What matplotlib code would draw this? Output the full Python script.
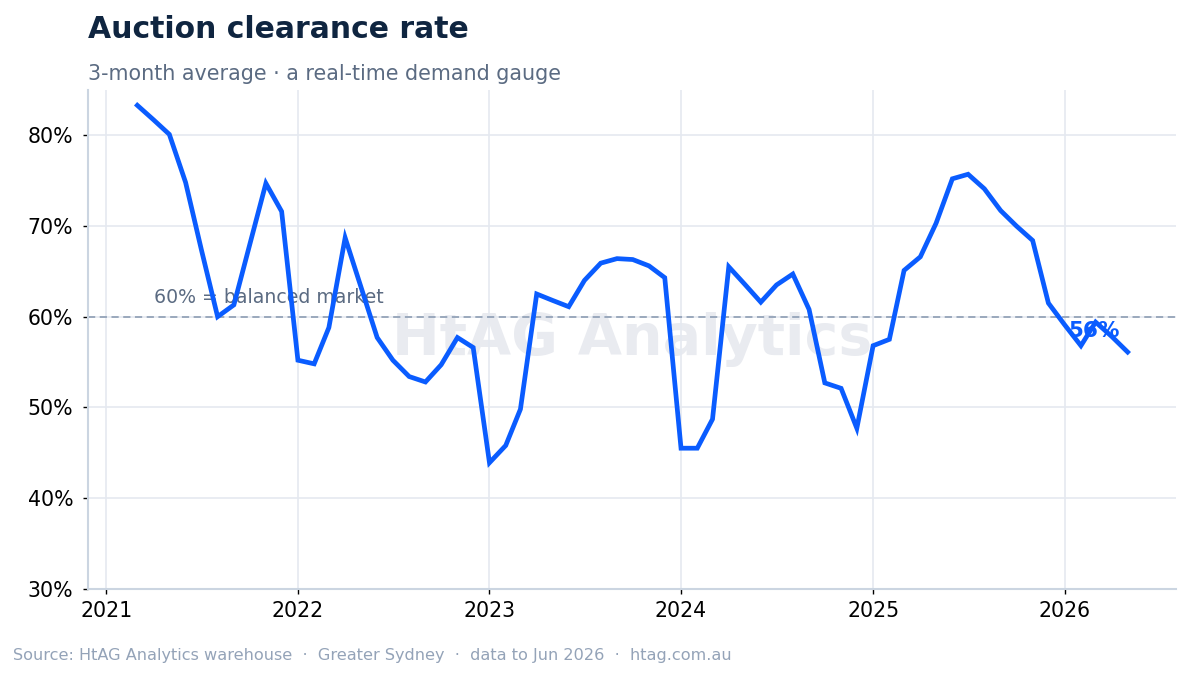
import numpy as np
import pandas as pd
import matplotlib
matplotlib.use("Agg")
import matplotlib.pyplot as plt
import matplotlib.dates as mdates
from matplotlib.ticker import FuncFormatter

# monthly 3-month-average clearance rate, Greater Sydney
months = pd.date_range("2021-03-01", "2026-05-01", freq="MS")
clearance = [
    83.3, 81.7, 80.1, 74.8, 67.4, 60.0, 61.3, 67.9, 74.7, 71.6,         # 2021 Mar-Dec
    55.2, 54.8, 58.8, 68.7, 63.3, 57.7, 55.2, 53.4, 52.8, 54.7, 57.7, 56.6,  # 2022
    43.9, 45.8, 49.8, 62.5, 61.8, 61.1, 64.0, 65.9, 66.4, 66.3, 65.6, 64.3,  # 2023
    45.5, 45.5, 48.7, 65.5, 63.6, 61.6, 63.5, 64.7, 60.8, 52.7, 52.1, 47.7,  # 2024
    56.8, 57.5, 65.1, 66.6, 70.3, 75.2, 75.7, 74.1, 71.7, 70.0, 68.4, 61.5,  # 2025
    59.1, 56.8, 59.4, 57.8, 56.1,                                        # 2026 Jan-May
]
balanced = 60
year_ticks = pd.to_datetime(["2021-01-01", "2022-01-01", "2023-01-01",
                             "2024-01-01", "2025-01-01", "2026-01-01"])

blue = "#0a5cff"
slate = "#5b6b82"

fig = plt.figure(figsize=(11.89, 6.76), dpi=100)
ax = fig.add_axes([0.074, 0.129, 0.915, 0.738])

ax.text(0.5, 0.5, "HtAG Analytics", transform=ax.transAxes, ha="center", va="center",
        fontsize=41, fontweight="bold", color="#e9ebf0", zorder=0.5)

ax.axhline(balanced, color="#94a3b8", lw=1.3, ls=(0, (4, 2.5)), zorder=2)
ax.text(pd.Timestamp("2021-04-01"), balanced + 1.1, "60% = balanced market",
        fontsize=13.6, color=slate, ha="left", va="bottom", zorder=3)

ax.plot(months, clearance, color=blue, lw=3.4, solid_joinstyle="miter", zorder=4)
ax.annotate(f"{clearance[-1]:.0f}%", (months[-1], clearance[-1]),
            xytext=(-6, 15), textcoords="offset points", ha="right", va="center",
            fontsize=15.5, fontweight="bold", color=blue, zorder=5)

ax.set_ylim(30, 85)
ax.set_yticks([30, 40, 50, 60, 70, 80])
ax.yaxis.set_major_formatter(FuncFormatter(lambda v, p: f"{v:.0f}%"))
ax.set_xlim(pd.Timestamp("2020-11-27"), pd.Timestamp("2026-08-01"))
ax.set_xticks(year_ticks)
ax.xaxis.set_major_formatter(mdates.DateFormatter("%Y"))

ax.grid(True, color="#e5e9f0", lw=1.2, zorder=0)
ax.set_axisbelow(True)
for side in ["top", "right"]:
    ax.spines[side].set_visible(False)
for side in ["left", "bottom"]:
    ax.spines[side].set_color("#cbd5e1")
    ax.spines[side].set_linewidth(1.5)
ax.tick_params(labelsize=14.8, colors="black", length=3.5, width=1)
ax.tick_params(axis="y", pad=7)
ax.tick_params(axis="x", pad=5)

fig.text(0.074, 0.944, "Auction clearance rate", fontsize=21.5, fontweight="bold",
         color="#0f2540", ha="left", va="baseline")
fig.text(0.074, 0.882, "3-month average · a real-time demand gauge", fontsize=14.9,
         color=slate, ha="left", va="baseline")
fig.text(0.011, 0.024,
         "Source: HtAG Analytics warehouse  ·  Greater Sydney  ·  data to Jun 2026  ·  htag.com.au",
         fontsize=11.6, color="#94a3b8", ha="left", va="baseline")

fig.savefig("out.png", dpi=100)
